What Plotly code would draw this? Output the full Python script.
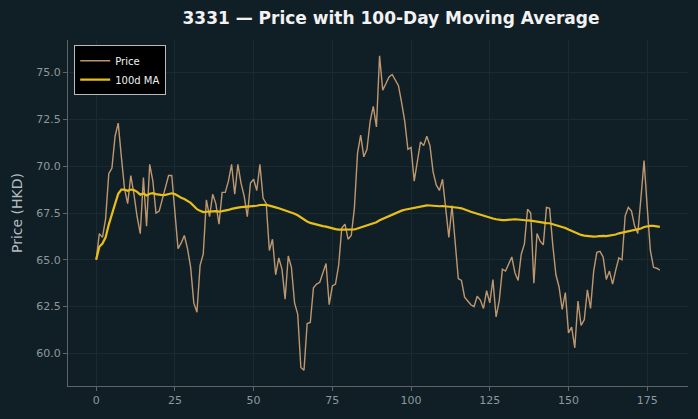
import plotly.graph_objects as go
import pandas as pd

days = list(range(180))
price = [
    65.0, 66.4, 66.2, 67.2, 69.6, 69.9, 71.6, 72.3, 70.5, 68.8,
    68.0, 69.5, 68.5, 67.3, 66.4, 69.4, 66.8, 70.1, 69.2, 67.5,
    67.6, 68.2, 68.8, 69.5, 69.5, 67.5, 65.6, 65.9, 66.3, 65.6,
    64.6, 62.7, 62.2, 64.7, 65.3, 68.2, 67.3, 68.5, 68.0, 66.9,
    68.6, 68.6, 69.2, 70.1, 68.5, 70.1, 69.1, 68.4, 67.3, 69.1,
    69.3, 68.7, 70.1, 68.3, 68.0, 65.5, 66.1, 64.2, 65.1, 64.5,
    62.9, 65.2, 64.6, 62.7, 62.1, 59.25, 59.1, 61.6, 61.65, 63.5,
    63.7, 63.8, 64.3, 64.8, 62.6, 63.6, 63.7, 64.7, 66.7, 66.9,
    66.1, 66.3, 67.75, 70.7, 71.66, 70.5, 70.9, 72.4, 73.2, 72.1,
    75.9, 74.06, 74.4, 74.77, 74.9, 74.6, 74.3, 73.4, 72.4, 70.9,
    71.0, 69.2, 70.2, 71.3, 71.1, 71.6, 71.1, 69.7, 69.0, 68.7,
    69.3, 67.9, 66.2, 67.9, 65.8, 64.0, 63.9, 63.0, 62.8, 62.6,
    62.5, 63.05, 62.85, 62.4, 63.35, 62.7, 63.95, 61.95, 62.8, 64.5,
    64.4, 64.8, 65.15, 64.3, 63.9, 65.3, 65.85, 67.7, 67.5, 63.75,
    66.4, 66.0, 65.8, 67.8, 67.75, 65.8, 64.2, 63.55, 62.35, 63.25,
    61.1, 61.4, 60.3, 62.8, 61.5, 61.8, 63.4, 62.4, 64.4, 65.4,
    65.45, 65.15, 63.95, 64.4, 63.7, 64.45, 65.1, 65.0, 67.35, 67.8,
    67.6, 66.8, 66.4, 68.3, 70.3, 67.8, 65.5, 64.6, 64.55, 64.45,
]
ma_window = 100
ma = pd.Series(price).rolling(ma_window, min_periods=1).mean().tolist()

x_ticks = [0, 25, 50, 75, 100, 125, 150, 175]
y_ticks = [60.0, 62.5, 65.0, 67.5, 70.0, 72.5, 75.0]

BG = "#101f26"
GRID = "#1a2a31"
SPINE = "#5c6468"
TICK_TXT = "#8e989c"
FONT = "DejaVu Sans"

fig = go.Figure()
fig.add_trace(go.Scatter(
    x=days, y=price, mode="lines", name="Price",
    line=dict(color="rgba(205,162,118,0.92)", width=1.4),
))
fig.add_trace(go.Scatter(
    x=days, y=ma, mode="lines", name="100d MA",
    line=dict(color="#e8bf18", width=2.2),
))

lo, hi = min(price), max(price)
pad = (hi - lo) * 0.05
xpad = (days[-1] - days[0]) * 0.05

fig.update_layout(
    width=698, height=419,
    margin=dict(l=68, r=10, t=40, b=33),
    paper_bgcolor=BG, plot_bgcolor=BG,
    font=dict(family=FONT, color=TICK_TXT, size=11),
    title=dict(
        text="<b>3331 — Price with 100-Day Moving Average</b>",
        x=391 / 698, xanchor="center",
        y=1 - 18 / 419, yanchor="middle",
        font=dict(family=FONT, size=17, color="#f2f2f2"),
    ),
    showlegend=True,
    legend=dict(
        x=0.01, y=0.985, xanchor="left", yanchor="top",
        bgcolor="#000000", bordercolor="#b8bcbe", borderwidth=1,
        font=dict(family=FONT, size=10, color="#f0f0f0"),
        itemwidth=30, tracegroupgap=0,
    ),
    xaxis=dict(
        range=[days[0] - xpad, days[-1] + xpad],
        tickvals=x_ticks, ticktext=[str(t) for t in x_ticks],
        showgrid=True, gridcolor=GRID, gridwidth=1,
        zeroline=False, showline=True, linecolor=SPINE, linewidth=1,
        ticks="outside", ticklen=4, tickcolor=SPINE,
        tickfont=dict(family=FONT, size=11, color=TICK_TXT),
        mirror=False,
    ),
    yaxis=dict(
        range=[lo - pad, hi + pad],
        tickvals=y_ticks, ticktext=[f"{t:.1f}" for t in y_ticks],
        showgrid=True, gridcolor=GRID, gridwidth=1,
        zeroline=False, showline=True, linecolor=SPINE, linewidth=1,
        ticks="outside", ticklen=4, tickcolor=SPINE,
        tickfont=dict(family=FONT, size=11, color=TICK_TXT),
        title=dict(text="Price (HKD)", standoff=10,
                   font=dict(family=FONT, size=14, color="#b4bcc0")),
    ),
)

fig.write_html("out.html")
